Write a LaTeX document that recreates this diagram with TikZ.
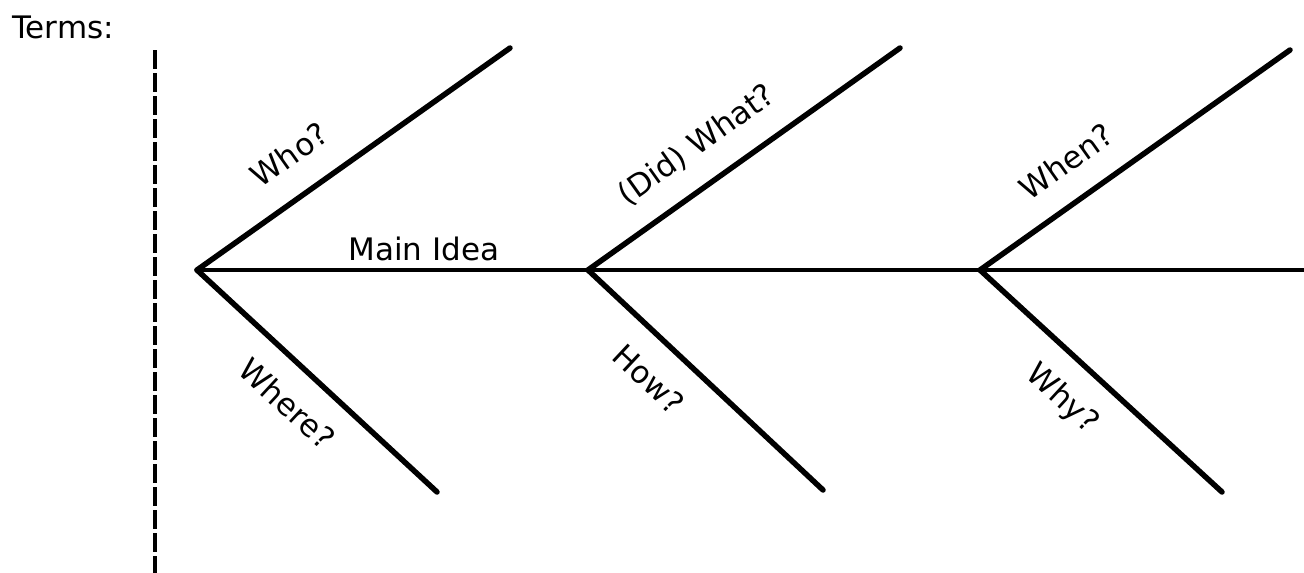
\documentclass[tikz,border=0pt]{standalone}
\usepackage{fontspec}
\setmainfont{DejaVu Sans}
\usetikzlibrary{calc}

\begin{document}
\begin{tikzpicture}[x=1pt,y=-1pt]
    \tikzset{bone/.style={line width=5.5pt,line cap=round},
             spine/.style={line width=4pt},
             lbl/.style={font=\fontsize{31}{36}\selectfont,inner sep=0pt}}
    \useasboundingbox (0,0) rectangle (1304,573);
    \node[lbl,anchor=north west] (terms) at (12,16) {Terms:};
    % dashed margin line
    \coordinate (mtop) at (155,50);
    \coordinate (mbot) at (155,573);
    \draw[line width=4.5pt,dash pattern=on 19pt off 4pt] (mtop) -- (mbot);
    % spine
    \coordinate (j1) at (197,270);
    \coordinate (j2) at (588,270);
    \coordinate (j3) at (980,270);
    \coordinate (tail) at (1304,270);
    \draw[spine] (j1) -- node[lbl,above=7pt,pos=.58] (main) {Main Idea} (j2) -- (j3) -- (tail);
    % bones
    \coordinate (u1) at (510,48);  \coordinate (l1) at (437,492);
    \coordinate (u2) at (900,48);  \coordinate (l2) at (823,490);
    \coordinate (u3) at (1290,50); \coordinate (l3) at (1222,492);
    \draw[bone] (j1) -- node[lbl,sloped,above=26pt,pos=.37] (who) {Who?} (u1);
    \draw[bone] (j2) -- node[lbl,sloped,above=22pt,pos=.42] (what) {(Did) What?} (u2);
    \draw[bone] (j3) -- node[lbl,sloped,above=24pt,pos=.35] (when) {When?} (u3);
    \draw[bone] (j1) -- node[lbl,sloped,below=22pt,pos=.48] (where) {Where?} (l1);
    \draw[bone] (j2) -- node[lbl,sloped,below=24pt,pos=.37] (how) {How?} (l2);
    \draw[bone] (j3) -- node[lbl,sloped,below=22pt,pos=.45] (why) {Why?} (l3);
\end{tikzpicture}
\end{document}
